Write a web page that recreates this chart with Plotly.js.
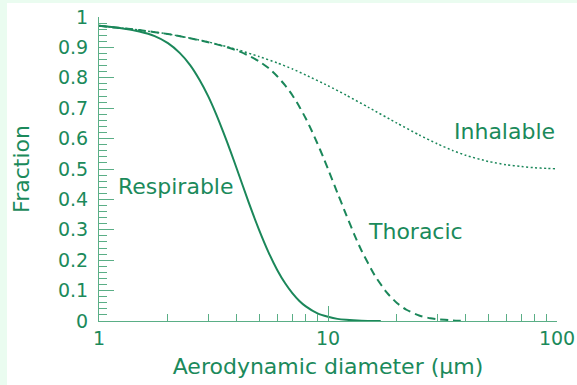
<!DOCTYPE html>
<html>
<head>
<meta charset="utf-8">
<script src="https://cdn.plot.ly/plotly-3.0.1.min.js"></script>
<style>
  html, body { margin: 0; padding: 0; background: #eafcf0; width: 577px; height: 385px; overflow: hidden; }
  #chart { position: absolute; left: 7px; top: 3px; width: 570px; height: 382px; }
</style>
</head>
<body>
<div id="chart"></div>
<script>
// Respirable (solid)
const respD = [1, 1.25, 1.5, 1.75, 2, 2.25, 2.5, 2.75, 3, 3.25, 3.5, 3.75, 4, 4.5, 5, 5.5, 6, 6.5, 7, 7.5, 8, 9, 10, 11, 12, 14, 16, 17];
const respF = [0.971, 0.963, 0.952, 0.937, 0.914, 0.882, 0.842, 0.793, 0.739, 0.680, 0.619, 0.559, 0.500, 0.391, 0.300, 0.226, 0.168, 0.124, 0.091, 0.066, 0.048, 0.025, 0.014, 0.007, 0.004, 0.001, 0.000, 0.000];
// Thoracic (dashed)
const thorD = [1, 1.5, 2, 2.5, 3, 3.5, 4, 4.5, 5, 5.5, 6, 6.5, 7, 7.5, 8, 8.5, 9, 9.5, 10, 11, 12, 13, 14, 16, 18, 20, 22, 25, 28, 30, 35, 38];
const thorF = [0.971, 0.957, 0.944, 0.930, 0.917, 0.904, 0.890, 0.873, 0.854, 0.832, 0.805, 0.775, 0.742, 0.705, 0.666, 0.625, 0.583, 0.542, 0.500, 0.421, 0.350, 0.286, 0.232, 0.150, 0.095, 0.059, 0.037, 0.018, 0.009, 0.006, 0.002, 0.001];
// Inhalable (dotted)
const inhD = [1, 1.5, 2, 3, 4, 5, 6, 7, 8, 10, 12, 15, 20, 25, 30, 35, 40, 50, 60, 70, 80, 90, 98];
const inhF = [0.971, 0.957, 0.944, 0.918, 0.893, 0.870, 0.849, 0.829, 0.809, 0.774, 0.743, 0.703, 0.651, 0.612, 0.583, 0.561, 0.545, 0.525, 0.514, 0.508, 0.504, 0.502, 0.501];

const yTickVals = [0, 0.1, 0.2, 0.3, 0.4, 0.5, 0.6, 0.7, 0.8, 0.9, 1];
const yTickText = ['0', '0.1', '0.2', '0.3', '0.4', '0.5', '0.6', '0.7', '0.8', '0.9', '1'];
const xTickVals = [1, 10, 100];
const xTickText = ['1', '10', '100'];
const xMinorVals = [2, 3, 4, 5, 6, 7, 8, 9, 20, 30, 40, 50, 60, 70, 80, 90];
const yMinorVals = [];
for (let i = 1; i < 50; i++) { if (i % 5 !== 0) yMinorVals.push(i / 50); }

const labels = ['Respirable', 'Thoracic', 'Inhalable'];

const curveColor = '#1b875a';
const textColor = '#1b8a5b';
const axisColor = '#5aae86';
const fontFam = 'DejaVu Sans, sans-serif';

const traces = [
  { x: respD, y: respF, name: labels[0], mode: 'lines', line: { color: curveColor, width: 2, shape: 'spline', smoothing: 0.6 } },
  { x: thorD, y: thorF, name: labels[1], mode: 'lines', line: { color: curveColor, width: 2, dash: '8px,5px', shape: 'spline', smoothing: 0.6 } },
  { x: inhD, y: inhF, name: labels[2], mode: 'lines', line: { color: curveColor, width: 1.5, dash: '2px,2.5px', shape: 'spline', smoothing: 0.6 } }
];

const layout = {
  width: 570, height: 382,
  margin: { l: 92, r: 20, t: 14, b: 64 },
  paper_bgcolor: '#ffffff',
  plot_bgcolor: '#ffffff',
  showlegend: false,
  font: { family: fontFam, color: textColor, size: 19 },
  xaxis: {
    type: 'log', range: [0, 2], autorange: false,
    showgrid: false, zeroline: false,
    showline: true, linecolor: axisColor, linewidth: 1,
    ticks: 'inside', ticklen: 15, tickwidth: 1, tickcolor: axisColor,
    tickmode: 'array', tickvals: xTickVals, ticktext: xTickText,
    ticklabelstandoff: 0,
    tickfont: { family: fontFam, color: textColor, size: 19 },
    minor: { tickmode: 'array', tickvals: xMinorVals, ticks: 'inside', ticklen: 7, tickwidth: 1, tickcolor: axisColor, showgrid: false },
    title: { text: 'Aerodynamic diameter (\u03bcm)', font: { family: fontFam, color: textColor, size: 22 }, standoff: 10 },
    automargin: false
  },
  yaxis: {
    range: [0, 1], autorange: false,
    showgrid: false, zeroline: false,
    showline: true, linecolor: axisColor, linewidth: 1,
    ticks: 'inside', ticklen: 15, tickwidth: 1, tickcolor: axisColor,
    tickmode: 'array', tickvals: yTickVals, ticktext: yTickText,
    ticklabelstandoff: 6,
    tickfont: { family: fontFam, color: textColor, size: 19 },
    minor: { tickmode: 'array', tickvals: yMinorVals, ticks: 'inside', ticklen: 8, tickwidth: 1, tickcolor: axisColor, showgrid: false },
    title: { text: 'Fraction', font: { family: fontFam, color: textColor, size: 22 }, standoff: 22 },
    automargin: false
  },
  annotations: [
    { text: labels[0], xref: 'x', yref: 'y', x: 0.074, y: 0.444, xanchor: 'left', yanchor: 'middle', showarrow: false, font: { family: fontFam, color: textColor, size: 22 } },
    { text: labels[1], xref: 'x', yref: 'y', x: 1.166, y: 0.293, xanchor: 'left', yanchor: 'middle', showarrow: false, font: { family: fontFam, color: textColor, size: 22 } },
    { text: labels[2], xref: 'x', yref: 'y', x: 1.541, y: 0.625, xanchor: 'left', yanchor: 'middle', showarrow: false, font: { family: fontFam, color: textColor, size: 22 } }
  ]
};

Plotly.newPlot('chart', traces, layout, { displayModeBar: false, staticPlot: true });
</script>
</body>
</html>
